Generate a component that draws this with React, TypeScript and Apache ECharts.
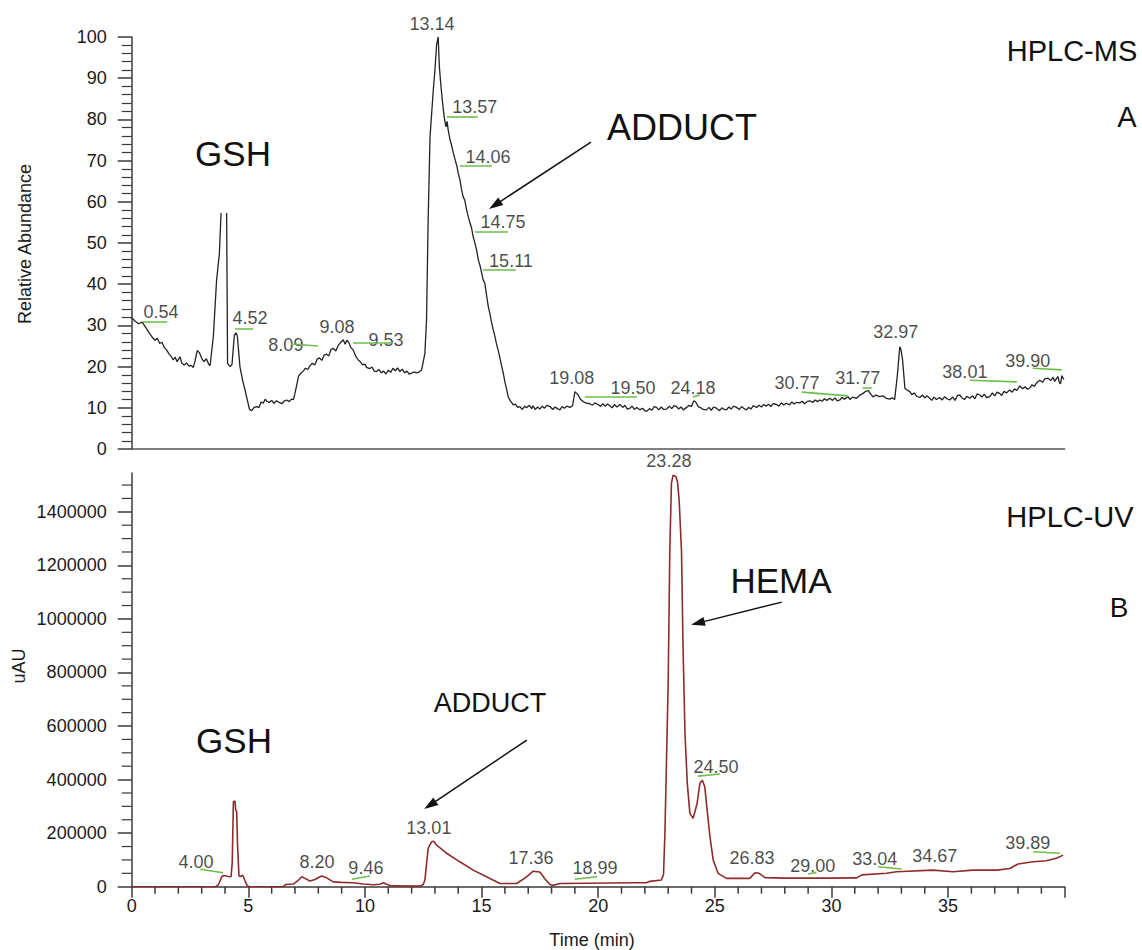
import React, { useEffect, useRef } from "react";
import * as echarts from "echarts";

// ---------- DATA ----------
// HPLC-MS trace: [time (min), relative abundance]; null = off-scale gap at the GSH peak
const msTrace: [number, number | null][] = [
  [0, 31.9], [0.15, 31], [0.3, 30.4], [0.45, 30.8], [0.6, 29.5], [0.75, 28.2], [0.9, 27], [1.0, 26.4], [1.1, 26.9], [1.2, 25.6],
  [1.3, 25.9], [1.4, 24.6], [1.5, 24.0], [1.6, 23.1], [1.7, 22.4], [1.78, 21.6], [1.86, 22.3], [1.95, 21.2], [2.07, 22.4], [2.15, 20.8],
  [2.25, 20.4], [2.35, 20.9], [2.45, 20.1], [2.55, 20.3], [2.64, 19.8], [2.72, 21.5], [2.81, 23.9], [2.9, 23.4], [3.0, 22.0], [3.1, 21.2],
  [3.2, 21.9], [3.3, 20.6], [3.36, 20.2], [3.5, 27.3], [3.64, 41], [3.76, 47.5], [3.83, 57.3], [3.95, null], [4.07, 57.3], [4.11, 20.8],
  [4.22, 20.0], [4.3, 20.5], [4.4, 27.6], [4.47, 28.2], [4.53, 27.4], [4.64, 20], [4.75, 16.8], [4.86, 14.3], [4.96, 11.8], [5.05, 9.6],
  [5.14, 9.3], [5.25, 10.1], [5.36, 10.3], [5.45, 10.0], [5.55, 11.4], [5.64, 11.1], [5.72, 12.1], [5.8, 11.6], [5.9, 11.3], [6.0, 11.8],
  [6.1, 11.1], [6.21, 11.7], [6.32, 11.3], [6.43, 11.0], [6.53, 11.6], [6.64, 11.9], [6.75, 11.5], [6.85, 12.1], [6.93, 12.0], [7.0, 13.5],
  [7.07, 15.4], [7.15, 17.6], [7.25, 18.4], [7.35, 18.9], [7.45, 19.6], [7.55, 19.3], [7.65, 20.3], [7.75, 20.8], [7.85, 20.4], [7.95, 21.8],
  [8.05, 22.1], [8.15, 21.5], [8.25, 22.8], [8.36, 23.0], [8.45, 22.6], [8.55, 24.2], [8.64, 24.4], [8.75, 23.8], [8.86, 25.2], [8.95, 25.8],
  [9.07, 26.5], [9.15, 25.4], [9.22, 26.4], [9.3, 25.9], [9.4, 24.6], [9.5, 24.0], [9.6, 22.6], [9.71, 21.6], [9.8, 21.2], [9.9, 20.4],
  [10.0, 20.6], [10.07, 19.8], [10.2, 19.5], [10.3, 19.9], [10.4, 18.9], [10.5, 18.8], [10.6, 19.3], [10.7, 18.5], [10.8, 18.9], [10.9, 18.2],
  [11.0, 19.1], [11.1, 18.6], [11.2, 19.6], [11.3, 19.0], [11.4, 19.7], [11.5, 18.8], [11.6, 19.4], [11.7, 18.5], [11.8, 18.9], [11.9, 18.2],
  [12.0, 18.4], [12.1, 18.7], [12.2, 18.5], [12.3, 18.6], [12.43, 19.2], [12.57, 23.2], [12.64, 31.3], [12.71, 55.6], [12.79, 75.8], [12.93, 87.1],
  [13.0, 92], [13.07, 98], [13.14, 100], [13.19, 92.8], [13.26, 88], [13.33, 83.9], [13.4, 80.5], [13.47, 78.2], [13.52, 79.5], [13.57, 77.4],
  [13.65, 75], [13.72, 73.6], [13.79, 71.8], [13.87, 70.1], [13.94, 68.7], [14.0, 66.9], [14.07, 65.4], [14.14, 63], [14.21, 61.2], [14.28, 60.4],
  [14.36, 58], [14.43, 56.4], [14.5, 54.9], [14.57, 53.7], [14.64, 51.5], [14.71, 50.1], [14.79, 48.2], [14.86, 45.9], [14.93, 44.6], [15.0, 42.8],
  [15.07, 41], [15.14, 40.2], [15.22, 37.1], [15.29, 34.5], [15.36, 32.8], [15.43, 30.7], [15.5, 28.9], [15.57, 27.4], [15.64, 25.5], [15.71, 24],
  [15.78, 22.3], [15.86, 20.2], [15.93, 18.4], [16.0, 16.3], [16.07, 14.6], [16.14, 12.7], [16.22, 11.8], [16.3, 11.2], [16.36, 10.7], [16.45, 10.9],
  [16.55, 10.1], [16.64, 10.3], [16.75, 9.6], [16.85, 10.4], [16.93, 10.0], [17.05, 10.6], [17.15, 9.8], [17.21, 10.5], [17.3, 9.6], [17.4, 10.2],
  [17.5, 9.7], [17.6, 10.4], [17.7, 9.9], [17.8, 10.6], [17.93, 10.3], [18.05, 9.6], [18.15, 10.2], [18.25, 9.8], [18.36, 9.5], [18.45, 10.3],
  [18.55, 9.9], [18.65, 10.4], [18.79, 10.1], [18.9, 10.5], [19.0, 13.9], [19.08, 13.5], [19.14, 13.1], [19.25, 12.0], [19.36, 11.5], [19.5, 11.1],
  [19.64, 11], [19.75, 10.6], [19.85, 11.2], [20.0, 10.8], [20.1, 10.3], [20.2, 11.0], [20.3, 10.4], [20.4, 10.9], [20.5, 10.5], [20.6, 10.0],
  [20.7, 10.8], [20.8, 10.2], [20.93, 10.8], [21.05, 10.1], [21.15, 10.6], [21.25, 9.7], [21.36, 9.9], [21.45, 10.4], [21.55, 9.6], [21.65, 10.1],
  [21.78, 9.5], [21.9, 9.9], [22.0, 9.3], [22.07, 9.1], [22.2, 9.8], [22.3, 9.4], [22.4, 10.3], [22.5, 10.1], [22.6, 9.5], [22.7, 10.2],
  [22.8, 9.6], [22.93, 9.7], [23.05, 10.4], [23.15, 9.8], [23.25, 10.5], [23.36, 10.3], [23.45, 9.7], [23.55, 10.2], [23.65, 9.5], [23.79, 10.1],
  [23.9, 10.6], [24.0, 10.3], [24.1, 11.7], [24.18, 11.4], [24.29, 10.3], [24.4, 10.0], [24.5, 9.6], [24.64, 9.5], [24.75, 10.1], [24.85, 9.4],
  [24.95, 10.2], [25.07, 9.9], [25.2, 9.3], [25.3, 10.0], [25.4, 9.6], [25.5, 9.5], [25.6, 10.2], [25.7, 9.7], [25.8, 10.4], [25.93, 10.1],
  [26.05, 9.6], [26.15, 10.3], [26.25, 9.8], [26.36, 9.5], [26.45, 10.1], [26.55, 9.7], [26.65, 10.5], [26.79, 10.1], [26.9, 10.6], [27.0, 10.2],
  [27.1, 10.8], [27.21, 10.4], [27.3, 10.9], [27.4, 10.3], [27.5, 11.0], [27.64, 10.8], [27.75, 10.4], [27.85, 11.2], [27.95, 10.7], [28.07, 11.1],
  [28.2, 10.7], [28.3, 11.4], [28.4, 10.9], [28.5, 11.3], [28.64, 11.2], [28.75, 11.6], [28.85, 11.0], [28.95, 11.5], [29.07, 11.7], [29.2, 11.3],
  [29.3, 11.9], [29.4, 11.5], [29.5, 11.9], [29.6, 11.6], [29.7, 12.2], [29.8, 11.8], [29.93, 12.3], [30.05, 11.8], [30.15, 12.4], [30.25, 11.7],
  [30.36, 11.9], [30.45, 12.5], [30.55, 12.1], [30.71, 12.7], [30.8, 12.0], [30.9, 12.6], [31.07, 12.3], [31.2, 13.0], [31.36, 13.5], [31.47, 14.0],
  [31.57, 14.2], [31.68, 13.4], [31.79, 12.6], [31.9, 13.1], [32.07, 12.7], [32.2, 12.9], [32.35, 12.3], [32.5, 12.1], [32.6, 12.4], [32.71, 12.0],
  [32.82, 17.6], [32.93, 24.8], [32.98, 24.2], [33.05, 21.6], [33.15, 14.7], [33.25, 14.3], [33.36, 13.9], [33.45, 13.2], [33.55, 13.6], [33.65, 12.8],
  [33.79, 12.5], [33.9, 13.1], [34.0, 12.4], [34.1, 12.9], [34.21, 12.3], [34.3, 11.8], [34.4, 12.6], [34.5, 12.0], [34.64, 12.5], [34.75, 11.9],
  [34.85, 12.7], [34.95, 12.2], [35.07, 11.9], [35.2, 12.6], [35.3, 11.8], [35.4, 13.0], [35.5, 13.1], [35.6, 12.4], [35.7, 12.0], [35.8, 12.8],
  [35.93, 12.3], [36.05, 12.9], [36.15, 12.2], [36.25, 13.4], [36.36, 13.1], [36.45, 12.6], [36.55, 13.3], [36.65, 12.5], [36.79, 12.7], [36.9, 13.6],
  [37.0, 12.9], [37.1, 13.8], [37.21, 13.5], [37.3, 13.0], [37.4, 14.0], [37.5, 13.6], [37.64, 14.3], [37.75, 13.8], [37.85, 14.6], [37.95, 14.2],
  [38.07, 15.3], [38.2, 14.6], [38.3, 15.1], [38.4, 14.5], [38.5, 14.8], [38.6, 15.6], [38.7, 15.2], [38.8, 16.1], [38.93, 16.7], [39.05, 16.2],
  [39.15, 17.0], [39.29, 17.2], [39.4, 16.6], [39.5, 17.4], [39.57, 16.4], [39.64, 17.0], [39.71, 17.6], [39.77, 16.1], [39.82, 15.8], [39.88, 17.8],
  [39.93, 17.2], [39.97, 16.9],
];

// HPLC-UV trace: [time (min), uAU]
const uvTrace: [number, number][] = [
  [0, 0], [1, 0], [2, 0], [3, 0], [3.6, 0], [3.72, 8000], [3.86, 37000], [3.96, 42000], [4.14, 38000], [4.26, 37000],
  [4.31, 90000], [4.36, 317000], [4.43, 320000], [4.46, 286000], [4.5, 280000], [4.54, 149000], [4.6, 40000], [4.68, 38000], [4.76, 43000], [4.86, 22000],
  [4.95, 4000], [5.05, 0], [6.5, 0], [6.6, 8000], [6.93, 10000], [7.15, 25000], [7.29, 37000], [7.43, 31000], [7.64, 21000], [7.86, 27000],
  [8.14, 40000], [8.36, 33000], [8.64, 18000], [9.0, 16000], [9.5, 15000], [9.93, 10000], [10.36, 7000], [10.64, 9000], [10.79, 15000], [10.93, 9000],
  [11.14, 3000], [12.36, 2000], [12.5, 8000], [12.57, 25000], [12.71, 143000], [12.86, 168000], [12.95, 170000], [13.07, 155000], [13.5, 125000], [14.07, 93000],
  [14.64, 62000], [15.21, 37000], [15.79, 12000], [16.5, 12000], [16.93, 37000], [17.21, 58000], [17.5, 55000], [17.71, 30000], [17.93, 8000], [18.07, 5000],
  [18.36, 12000], [19.5, 13000], [20.5, 14000], [21.5, 15000], [22.07, 15000], [22.21, 20000], [22.71, 25000], [22.8, 45000], [22.86, 199000], [23.0, 759000],
  [23.07, 1257000], [23.14, 1506000], [23.21, 1537000], [23.33, 1532000], [23.4, 1512000], [23.47, 1444000], [23.57, 1257000], [23.64, 884000], [23.72, 573000], [23.82, 386000],
  [23.93, 274000], [24.07, 255000], [24.24, 311000], [24.36, 386000], [24.46, 398000], [24.57, 373000], [24.67, 286000], [24.79, 187000], [24.93, 100000], [25.14, 50000],
  [25.5, 31000], [26.5, 31000], [26.72, 52000], [26.9, 50000], [27.15, 34000], [28, 32000], [29, 32000], [30, 32000], [31.08, 33000], [31.3, 44000],
  [32.36, 50000], [32.79, 56000], [34.36, 62000], [35.21, 56000], [36.07, 62000], [37.1, 62000], [37.64, 68000], [38.0, 85000], [38.64, 93000], [39.2, 97000],
  [39.65, 106000], [39.93, 118000],
];

// Peak labels: [time, value (label anchor), text]
const msPeakLabels: [number, number, string][] = [
  [1.26, 33.3, "0.54"], [5.07, 31.8, "4.52"], [6.61, 25.2, "8.09"], [8.8, 29.6, "9.08"], [10.9, 26.5, "9.53"],
  [12.87, 103.2, "13.14"], [14.71, 83.0, "13.57"], [15.28, 70.9, "14.06"], [15.92, 55.1, "14.75"], [16.26, 45.6, "15.11"],
  [18.87, 17.2, "19.08"], [21.49, 14.8, "19.50"], [24.06, 14.8, "24.18"], [28.52, 16.0, "30.77"], [31.13, 17.2, "31.77"],
  [32.76, 28.4, "32.97"], [35.72, 18.7, "38.01"], [38.42, 21.4, "39.90"],
];
const uvPeakLabels: [number, number, string][] = [
  [2.76, 92200, "4.00"], [7.94, 92200, "8.20"], [10.04, 69800, "9.46"], [12.74, 219000, "13.01"], [17.12, 107000, "17.36"],
  [19.86, 69800, "18.99"], [23.03, 1590000, "23.28"], [25.05, 446800, "24.50"], [26.59, 107000, "26.83"], [29.2, 77300, "29.00"],
  [31.86, 103400, "33.04"], [34.43, 114600, "34.67"], [38.42, 163100, "39.89"],
];

// Green integration marks: [t1, v1, t2, v2]
const msGreenMarks: [number, number, number, number][] = [
  [0.49, 30.8, 1.52, 30.8], [4.43, 29.1, 5.2, 29.1], [6.83, 25.5, 7.99, 25.0], [9.49, 25.7, 11.16, 25.7],
  [13.51, 80.6, 14.84, 80.6], [14.07, 68.7, 15.44, 68.7], [14.71, 52.7, 16.13, 52.7], [15.06, 43.4, 16.47, 43.4],
  [19.43, 12.6, 21.66, 12.6], [24.06, 12.6, 24.36, 13.1], [28.73, 13.8, 30.7, 12.9], [31.34, 14.8, 31.73, 14.8],
  [35.93, 16.7, 37.95, 16.3], [38.63, 19.6, 39.87, 19.2],
];
const uvGreenMarks: [number, number, number, number][] = [
  [2.94, 65000, 3.92, 52000], [9.44, 27600, 10.22, 40000], [19.0, 27600, 19.95, 37300], [24.28, 413000, 25.22, 421000],
  [29.0, 47400, 29.36, 53600], [32.0, 74700, 33.0, 66000], [38.65, 130600, 39.79, 124700],
];

// Annotation arrows: [fromT, fromV, toT, toV]
const msArrows: [number, number, number, number][] = [[19.69, 74.5, 15.57, 59.2]];
const uvArrows: [number, number, number, number][] = [
  [16.94, 547600, 12.79, 304900],
  [27.87, 1062800, 24.27, 984400],
];

// Axis ticks
const timeMax = 40;
const timeUnlabelled = [40];
const timeMinorTicks = [
  1, 2, 3, 4, 6, 7, 8, 9, 11, 12, 13, 14, 16, 17, 18, 19, 21, 22, 23, 24,
  26, 27, 28, 29, 31, 32, 33, 34, 36, 37, 38, 39,
];
const msMax = 100;
const uvMax = 1545000;
const uvLabelTicks = [0, 200000, 400000, 600000, 800000, 1000000, 1200000, 1400000];
const uvMinorTicks = [
  50000, 100000, 150000, 250000, 300000, 350000, 450000, 500000, 550000, 650000, 700000, 750000,
  850000, 900000, 950000, 1050000, 1100000, 1150000, 1250000, 1300000, 1350000, 1450000, 1500000,
];

// ---------- CHART ----------
const FONT = "'Liberation Sans', Arial, Helvetica, sans-serif";
const AXIS_COLOR = "#3a3a3a";
const TEXT_COLOR = "#1a1a1a";
const GREEN = "#6cbf4a";

function markSegments(marks: [number, number, number, number][]) {
  return marks.map(([a, b, c, d]) => [{ coord: [a, b] }, { coord: [c, d] }]);
}

export default function App() {
  const ref = useRef<HTMLDivElement>(null);

  useEffect(() => {
    if (!ref.current) return;
    const chart = echarts.init(ref.current, null, { renderer: "svg" });

    const labelStyle = { color: TEXT_COLOR, fontSize: 18, fontFamily: FONT };
    const plain = (v: number) => String(v);

    const option: any = {
      animation: false,
      backgroundColor: "#ffffff",
      grid: [
        { left: 131.7, top: 37, width: 933, height: 412, outerBoundsMode: "none" },
        { left: 131.7, top: 473, width: 933, height: 413.7, outerBoundsMode: "none" },
      ],
      xAxis: [
        {
          type: "value", gridIndex: 0, position: "bottom", min: 0, max: timeMax,
          axisLine: { show: true, onZero: false, lineStyle: { color: "#555", width: 1.5 } },
          axisTick: { show: false }, axisLabel: { show: false }, splitLine: { show: false },
        },
        {
          type: "value", gridIndex: 1, position: "bottom", min: 0, max: timeMax, interval: 5,
          axisLine: { show: true, onZero: false, lineStyle: { color: AXIS_COLOR, width: 1.5 } },
          axisTick: { show: true, length: 11, lineStyle: { color: AXIS_COLOR, width: 1.5 } },
          axisLabel: {
            show: true, margin: 10, ...labelStyle,
            formatter: (v: number) => (timeUnlabelled.includes(v) ? "" : String(v)),
          },
          splitLine: { show: false },
        },
      ],
      yAxis: [
        {
          type: "value", gridIndex: 0, position: "left", min: 0, max: msMax, interval: 10,
          axisLine: { show: true, onZero: false, lineStyle: { color: AXIS_COLOR, width: 1.5 } },
          axisTick: { show: true, length: 14, lineStyle: { color: AXIS_COLOR, width: 1.5 } },
          minorTick: { show: true, splitNumber: 5, length: 10, lineStyle: { color: AXIS_COLOR, width: 1.2 } },
          axisLabel: { show: true, margin: 25, formatter: plain, ...labelStyle },
          splitLine: { show: false },
        },
        {
          type: "value", gridIndex: 1, position: "left", min: 0, max: uvMax,
          axisLine: { show: true, onZero: false, lineStyle: { color: AXIS_COLOR, width: 1.5 } },
          axisTick: { show: true, customValues: uvLabelTicks, length: 14, lineStyle: { color: AXIS_COLOR, width: 1.5 } },
          axisLabel: { show: true, customValues: uvLabelTicks, margin: 25, formatter: plain, ...labelStyle },
          splitLine: { show: false },
        },
      ],
      series: [
        {
          type: "line", xAxisIndex: 0, yAxisIndex: 0, data: msTrace,
          showSymbol: false, connectNulls: false, silent: true,
          lineStyle: { color: "#222", width: 1.3 },
          markLine: {
            silent: true, symbol: ["none", "triangle"], symbolSize: [9, 14],
            label: { show: false },
            lineStyle: { color: "#111", width: 1.5, type: "solid" },
            data: markSegments(msArrows),
          },
        },
        {
          type: "scatter", xAxisIndex: 0, yAxisIndex: 0, data: msPeakLabels,
          symbolSize: 1, itemStyle: { color: "rgba(0,0,0,0)" }, clip: false, silent: true,
          label: { show: true, position: "inside", formatter: (p: any) => p.data[2], ...labelStyle },
          markLine: {
            silent: true, symbol: ["none", "none"], label: { show: false },
            lineStyle: { color: GREEN, width: 1.6, type: "solid" },
            data: markSegments(msGreenMarks),
          },
        },
        {
          type: "line", xAxisIndex: 1, yAxisIndex: 1, data: uvTrace,
          showSymbol: false, silent: true,
          lineStyle: { color: "#8e2c2c", width: 1.6 },
          markLine: {
            silent: true, symbol: ["none", "triangle"], symbolSize: [9, 14],
            label: { show: false },
            lineStyle: { color: "#111", width: 1.5, type: "solid" },
            data: markSegments(uvArrows),
          },
        },
        {
          type: "scatter", xAxisIndex: 1, yAxisIndex: 1, data: uvPeakLabels,
          symbolSize: 1, itemStyle: { color: "rgba(0,0,0,0)" }, clip: false, silent: true,
          label: { show: true, position: "inside", formatter: (p: any) => p.data[2], ...labelStyle },
          markLine: {
            silent: true, symbol: ["none", "none"], label: { show: false },
            lineStyle: { color: GREEN, width: 1.6, type: "solid" },
            data: markSegments(uvGreenMarks),
          },
        },
        // minor ticks of the lower time axis, positioned through the axis scale
        {
          type: "custom", xAxisIndex: 1, yAxisIndex: 1, clip: false, silent: true, z: 10,
          data: timeMinorTicks.map((t) => [t, 0]),
          encode: { x: 0, y: 1 },
          renderItem: (_params: any, api: any) => {
            const p = api.coord([api.value(0), 0]);
            return {
              type: "line",
              shape: { x1: p[0], y1: p[1], x2: p[0], y2: p[1] + 7 },
              style: { stroke: AXIS_COLOR, lineWidth: 1.5 },
            };
          },
        },
        // minor ticks of the lower uAU axis
        {
          type: "custom", xAxisIndex: 1, yAxisIndex: 1, clip: false, silent: true, z: 10,
          data: uvMinorTicks.map((v) => [0, v]),
          encode: { x: 0, y: 1 },
          renderItem: (_params: any, api: any) => {
            const p = api.coord([0, api.value(1)]);
            return {
              type: "line",
              shape: { x1: p[0] - 10, y1: p[1], x2: p[0], y2: p[1] },
              style: { stroke: AXIS_COLOR, lineWidth: 1.2 },
            };
          },
        },
      ],
      graphic: [
        { type: "text", x: 25, y: 244, rotation: Math.PI / 2, style: { text: "Relative Abundance", font: `18px ${FONT}`, fill: TEXT_COLOR, textAlign: "center", textVerticalAlign: "middle" } },
        { type: "text", x: 19, y: 666, rotation: Math.PI / 2, style: { text: "uAU", font: `18px ${FONT}`, fill: TEXT_COLOR, textAlign: "center", textVerticalAlign: "middle" } },
        { type: "text", x: 592, y: 940, style: { text: "Time (min)", font: `18px ${FONT}`, fill: TEXT_COLOR, textAlign: "center", textVerticalAlign: "middle" } },
        { type: "text", x: 233, y: 153, style: { text: "GSH", font: `35px ${FONT}`, fill: "#111", textAlign: "center", textVerticalAlign: "middle" } },
        { type: "text", x: 682, y: 127, style: { text: "ADDUCT", font: `36px ${FONT}`, fill: "#111", textAlign: "center", textVerticalAlign: "middle" } },
        { type: "text", x: 1072, y: 51, style: { text: "HPLC-MS", font: `29px ${FONT}`, fill: "#111", textAlign: "center", textVerticalAlign: "middle" } },
        { type: "text", x: 1127, y: 117, style: { text: "A", font: `29px ${FONT}`, fill: "#111", textAlign: "center", textVerticalAlign: "middle" } },
        { type: "text", x: 1070, y: 517, style: { text: "HPLC-UV", font: `29px ${FONT}`, fill: "#111", textAlign: "center", textVerticalAlign: "middle" } },
        { type: "text", x: 1119, y: 607, style: { text: "B", font: `28px ${FONT}`, fill: "#111", textAlign: "center", textVerticalAlign: "middle" } },
        { type: "text", x: 781, y: 580, style: { text: "HEMA", font: `35px ${FONT}`, fill: "#111", textAlign: "center", textVerticalAlign: "middle" } },
        { type: "text", x: 490, y: 703, style: { text: "ADDUCT", font: `27px ${FONT}`, fill: "#111", textAlign: "center", textVerticalAlign: "middle" } },
        { type: "text", x: 234, y: 740, style: { text: "GSH", font: `35px ${FONT}`, fill: "#111", textAlign: "center", textVerticalAlign: "middle" } },
      ],
    };

    chart.setOption(option);
    return () => chart.dispose();
  }, []);

  return (
    <div
      ref={ref}
      style={{ position: "fixed", left: 0, top: 0, width: 1142, height: 950, background: "#fff" }}
    />
  );
}
